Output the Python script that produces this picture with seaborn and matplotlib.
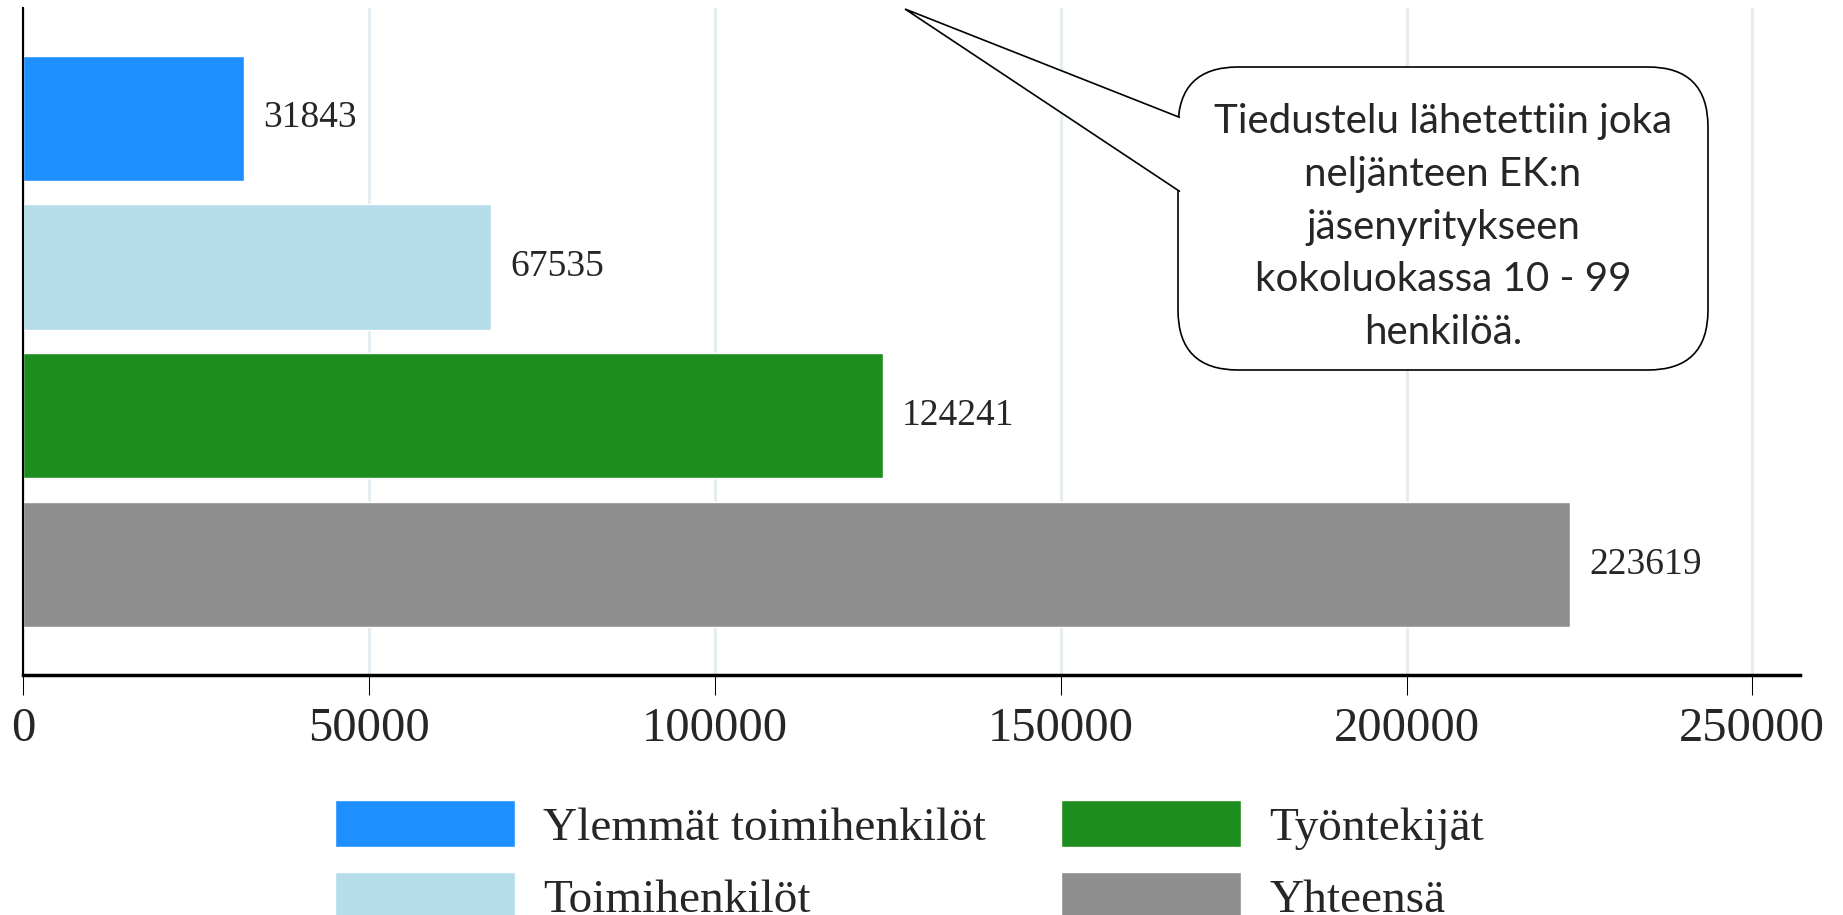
import matplotlib
matplotlib.use("Agg")
import matplotlib.pyplot as plt
import seaborn as sns
import pandas as pd
from matplotlib.patches import FancyBboxPatch, Polygon

sns.set_style("white")
plt.rcParams["font.family"] = ["Liberation Serif", "DejaVu Serif"]

# data
groups = ["Ylemmät toimihenkilöt", "Toimihenkilöt", "Työntekijät", "Yhteensä"]
counts = [31843, 67535, 124241, 223619]
colors = ["#1E8FFF", "#B5DDE9", "#1D8E1D", "#8E8E8E"]
x_ticks = [0, 50000, 100000, 150000, 200000, 250000]
note = "Tiedustelu lähetettiin joka\nneljänteen EK:n\njäsenyritykseen\nkokoluokassa 10 - 99\nhenkilöä."

df = pd.DataFrame({"group": groups, "count": counts})

fig = plt.figure(figsize=(18.43, 9.15), dpi=100)
ax = fig.add_axes([0.01275, 0.2623, 0.9639, 0.729])

sns.barplot(data=df, x="count", y="group", hue="group", palette=colors,
            width=0.84, saturation=1, legend=True, ax=ax)

# value labels right of the bars
for cont in ax.containers:
    ax.bar_label(cont, fmt="%d", padding=14, fontsize=27)

ax.set_xlim(0, 256900)
ax.set_ylim(3.74, -0.74)
ax.set_xticks(x_ticks)
ax.set_xticklabels([str(t) for t in x_ticks], fontsize=35)
ax.set_yticks([])
ax.set_xlabel("")
ax.set_ylabel("")
ax.grid(axis="x", color="#E4EEF1", linewidth=2.2)
ax.set_axisbelow(True)
for side in ["top", "right"]:
    ax.spines[side].set_visible(False)
ax.spines["left"].set_linewidth(1.5)
ax.spines["left"].set_color("black")
ax.spines["bottom"].set_linewidth(2.5)
ax.spines["bottom"].set_color("black")
ax.tick_params(axis="x", direction="out", length=14.4, width=0.75,
               color="black", pad=9, bottom=True)

# legend below the plot, two columns (second row runs off the bottom, as in the original)
handles, labels = ax.get_legend_handles_labels()
ax.get_legend().remove()
fig.legend(handles, labels, loc="upper left", bbox_to_anchor=(0.1818, 0.1255),
           bbox_transform=fig.transFigure, ncol=2, frameon=False, fontsize=34,
           handlelength=3.8, handleheight=1.16, handletextpad=0.6,
           labelspacing=0.475, columnspacing=1.6, borderpad=0, borderaxespad=0)

# speech bubble callout (inches from figure's lower left)
box = FancyBboxPatch((11.78, 5.45), 5.30, 3.03,
                     boxstyle="round,pad=0,rounding_size=0.6",
                     transform=fig.dpi_scale_trans, facecolor="white",
                     edgecolor="black", linewidth=1.2, zorder=5)
fig.add_artist(box)
wedge = Polygon([(11.80, 7.975), (9.05, 9.06), (11.80, 7.234)], closed=False,
                transform=fig.dpi_scale_trans, facecolor="white",
                edgecolor="black", linewidth=1.2, zorder=6)
fig.add_artist(wedge)
fig.text(14.43 / 18.43, 6.88 / 9.15, note, ha="center", va="center",
         fontsize=29, linespacing=1.53, family=["Lato", "DejaVu Sans"],
         zorder=7)

fig.savefig("out.png", dpi=100)
